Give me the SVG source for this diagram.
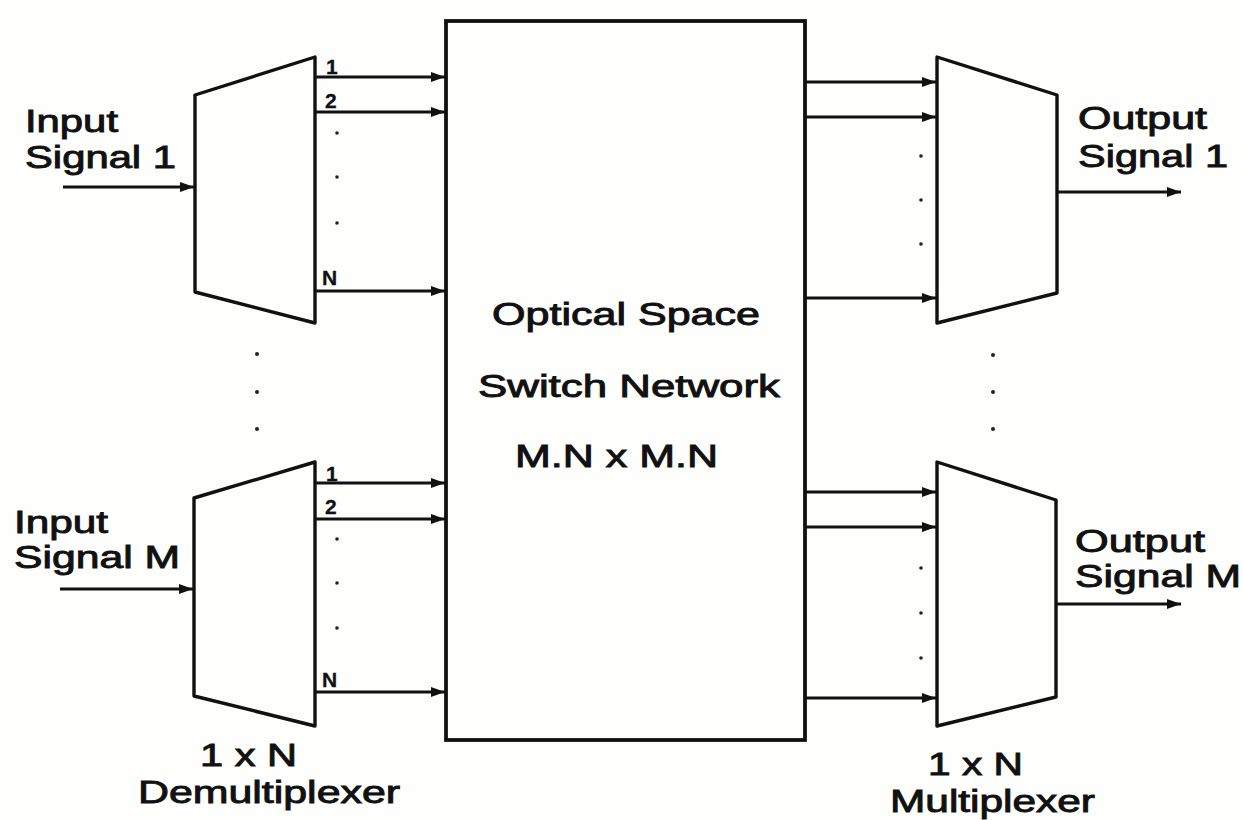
<svg xmlns="http://www.w3.org/2000/svg" width="1243" height="820" viewBox="0 0 1243 820">
<defs>
<marker id="ah" markerUnits="userSpaceOnUse" markerWidth="15" markerHeight="11" refX="14" refY="5.5" orient="auto">
<path d="M0,0.5 L14,5.5 L0,10.5 z" fill="#111"/>
</marker>
<style>
.shape{fill:none;stroke:#111;stroke-width:3.4;stroke-linejoin:round}
.box{fill:none;stroke:#111;stroke-width:3.8}
.con{fill:none;stroke:#111;stroke-width:2.8;marker-end:url(#ah)}
.t{font-family:"Liberation Sans",Arial,sans-serif;fill:#111;stroke:#111;stroke-width:0.9}
.lbl{font-size:31px}
.mid{font-size:31px}
.sm{font-size:21px;font-weight:bold;stroke-width:0.3}
.dot{fill:#222}
</style>
</defs>
<rect width="1243" height="820" fill="#fefefc"/>

<g id="switch">
<rect class="box" x="446" y="21" width="359" height="719"/>
<text class="t mid" x="492" y="325" textLength="268" lengthAdjust="spacingAndGlyphs">Optical Space</text>
<text class="t mid" x="478" y="397" textLength="302" lengthAdjust="spacingAndGlyphs">Switch Network</text>
<text class="t mid" x="515" y="467" textLength="203" lengthAdjust="spacingAndGlyphs">M.N x M.N</text>
</g>

<g id="demux1">
<polygon class="shape" points="195,95 315,57 315,323 195,292"/>
<text class="t sm" x="326" y="74">1</text>
<text class="t sm" x="325" y="108">2</text>
<text class="t sm" x="322" y="285">N</text>
<circle class="dot" cx="337" cy="133" r="1.8"/>
<circle class="dot" cx="337" cy="177" r="1.8"/>
<circle class="dot" cx="337" cy="223" r="1.8"/>
<text class="t lbl" x="25" y="132" textLength="93" lengthAdjust="spacingAndGlyphs">Input</text>
<text class="t lbl" x="25" y="168" textLength="151" lengthAdjust="spacingAndGlyphs">Signal 1</text>
</g>

<g id="demuxM">
<polygon class="shape" points="194,498 315,462 315,726 194,696"/>
<text class="t sm" x="326" y="481">1</text>
<text class="t sm" x="325" y="514">2</text>
<text class="t sm" x="322" y="687">N</text>
<circle class="dot" cx="337" cy="539" r="1.8"/>
<circle class="dot" cx="337" cy="583" r="1.8"/>
<circle class="dot" cx="337" cy="628" r="1.8"/>
<text class="t lbl" x="14" y="533" textLength="94" lengthAdjust="spacingAndGlyphs">Input</text>
<text class="t lbl" x="14" y="568" textLength="166" lengthAdjust="spacingAndGlyphs">Signal M</text>
<text class="t lbl" x="200" y="766" textLength="97" lengthAdjust="spacingAndGlyphs">1 x N</text>
<text class="t lbl" x="138" y="803" textLength="262" lengthAdjust="spacingAndGlyphs">Demultiplexer</text>
</g>

<g id="mux1">
<polygon class="shape" points="937,57 1057,95 1057,293 937,323"/>
<circle class="dot" cx="921" cy="156" r="1.8"/>
<circle class="dot" cx="921" cy="200" r="1.8"/>
<circle class="dot" cx="921" cy="244" r="1.8"/>
<text class="t lbl" x="1078" y="129" textLength="129" lengthAdjust="spacingAndGlyphs">Output</text>
<text class="t lbl" x="1078" y="167" textLength="150" lengthAdjust="spacingAndGlyphs">Signal 1</text>
</g>

<g id="muxM">
<polygon class="shape" points="937,462 1056,500 1056,697 937,726"/>
<circle class="dot" cx="921" cy="568" r="1.8"/>
<circle class="dot" cx="921" cy="613" r="1.8"/>
<circle class="dot" cx="921" cy="658" r="1.8"/>
<text class="t lbl" x="1075" y="552" textLength="130" lengthAdjust="spacingAndGlyphs">Output</text>
<text class="t lbl" x="1075" y="587" textLength="166" lengthAdjust="spacingAndGlyphs">Signal M</text>
<text class="t lbl" x="928" y="775" textLength="95" lengthAdjust="spacingAndGlyphs">1 x N</text>
<text class="t lbl" x="890" y="812" textLength="205" lengthAdjust="spacingAndGlyphs">Multiplexer</text>
</g>

<g id="ellipsis">
<circle class="dot" cx="257" cy="354" r="2"/>
<circle class="dot" cx="257" cy="392" r="2"/>
<circle class="dot" cx="257" cy="429" r="2"/>
<circle class="dot" cx="993" cy="355" r="2"/>
<circle class="dot" cx="993" cy="392" r="2"/>
<circle class="dot" cx="993" cy="429" r="2"/>
</g>

<g id="connectors">
<line class="con" x1="63" y1="187" x2="194" y2="187"/>
<line class="con" x1="60" y1="589" x2="193" y2="589"/>
<line class="con" x1="315" y1="77" x2="445" y2="77"/>
<line class="con" x1="315" y1="112" x2="445" y2="112"/>
<line class="con" x1="315" y1="291" x2="445" y2="291"/>
<line class="con" x1="315" y1="483" x2="445" y2="483"/>
<line class="con" x1="315" y1="519" x2="445" y2="519"/>
<line class="con" x1="315" y1="692" x2="445" y2="692"/>
<line class="con" x1="806" y1="82" x2="936" y2="82"/>
<line class="con" x1="806" y1="117" x2="936" y2="117"/>
<line class="con" x1="806" y1="298" x2="936" y2="298"/>
<line class="con" x1="806" y1="492" x2="936" y2="492"/>
<line class="con" x1="806" y1="527" x2="936" y2="527"/>
<line class="con" x1="806" y1="698" x2="936" y2="698"/>
<line class="con" x1="1057" y1="192" x2="1181" y2="192"/>
<line class="con" x1="1056" y1="604" x2="1181" y2="604"/>
</g>
</svg>
